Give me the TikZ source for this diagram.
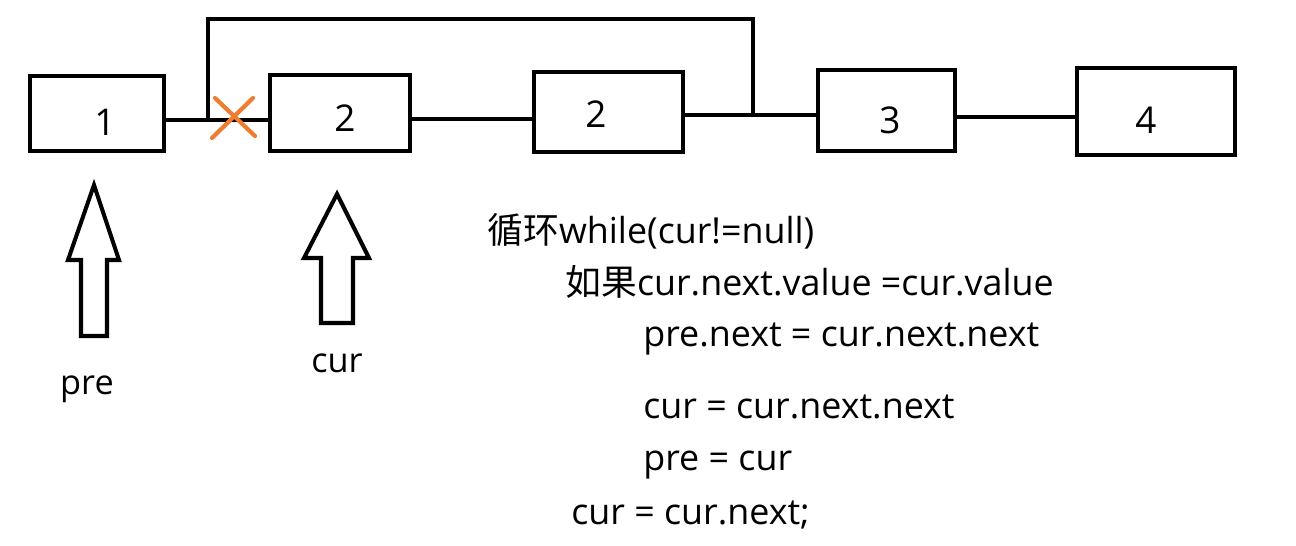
\documentclass[tikz,border=0pt]{standalone}
\usepackage{fontspec}
\setmainfont{Open Sans}
\newfontfamily\cjk{Noto Sans CJK SC}
\definecolor{xorange}{RGB}{237,125,49}
\begin{document}
\begin{tikzpicture}[x=0.02cm,y=-0.02cm,
  box/.style={draw,line width=2.6pt,inner sep=0pt},
  num/.style={inner sep=0pt,font=\fontsize{21}{24}\selectfont},
  lbl/.style={inner sep=0pt,anchor=base,font=\fontsize{19.5}{22}\selectfont},
  code/.style={inner sep=0pt,anchor=base west,font=\fontsize{20.4}{24}\selectfont},
  wire/.style={line width=2.6pt},
  ptr/.style={line width=2.3pt,line join=miter},
  cross/.style={line width=2.4pt,xorange,line cap=round}]
\useasboundingbox (0,0) rectangle (1296,545);
% boxes
\node[box,minimum width=2.68cm,minimum height=1.5cm] (b1) at (97,113.5) {};
\node[box,minimum width=2.8cm,minimum height=1.52cm] (b2) at (340,113) {};
\node[box,minimum width=2.98cm,minimum height=1.6cm] (b3) at (608.5,112) {};
\node[box,minimum width=2.74cm,minimum height=1.62cm] (b4) at (886.5,110.5) {};
\node[box,minimum width=3.16cm,minimum height=1.74cm] (b5) at (1156,111.5) {};
\node[num] (n1) at (105,122) {1};
\node[num] (n2) at (345,118) {2};
\node[num] (n3) at (596,114) {2};
\node[num] (n4) at (890,120) {3};
\node[num] (n5) at (1146,120) {4};
% junctions
\coordinate (j1) at (208,120);
\coordinate (j0) at (470,119);
\coordinate (j2) at (753,115);
\coordinate (j3) at (1016,117);
\coordinate (t1) at (208,19);
\coordinate (t2) at (753,19);
% connectors
\draw[wire] (b1.east |- j1) -- (b2.west |- j1);
\draw[wire] (b2.east |- j0) -- (b3.west |- j0);
\draw[wire] (b3.east |- j2) -- (b4.west |- j2);
\draw[wire] (b4.east |- j3) -- (b5.west |- j3);
\draw[wire,line join=miter] (j1) -- (t1) -- (t2) -- (j2);
% cross
\coordinate (c1) at (215,98);
\coordinate (c2) at (255,136);
\coordinate (c3) at (253,98);
\coordinate (c4) at (212,138);
\draw[cross] (c1) -- (c2);
\draw[cross] (c3) -- (c4);
% pointer arrows
\draw[ptr] (94,185) -- (119,260) -- (107,260) -- (107,336) -- (81,336) -- (81,260) -- (68,260) -- cycle;
\draw[ptr] (337,194) -- (369,258) -- (353,258) -- (353,323) -- (321,323) -- (321,258) -- (304,258) -- cycle;
\node[lbl] (pre) at (87,394) {pre};
\node[lbl] (cur) at (337,372) {cur};
% code
\node[code] (l1) at (487,243) {{\cjk 循环}while(cur!=null)};
\node[code] (l2) at (565,295) {{\cjk 如果}cur.next.value =cur.value};
\node[code] (l3) at (643,346) {pre.next = cur.next.next};
\node[code] (l4) at (643,418) {cur = cur.next.next};
\node[code] (l5) at (643,470) {pre = cur};
\node[code] (l6) at (571,524) {cur = cur.next;};
\end{tikzpicture}
\end{document}
